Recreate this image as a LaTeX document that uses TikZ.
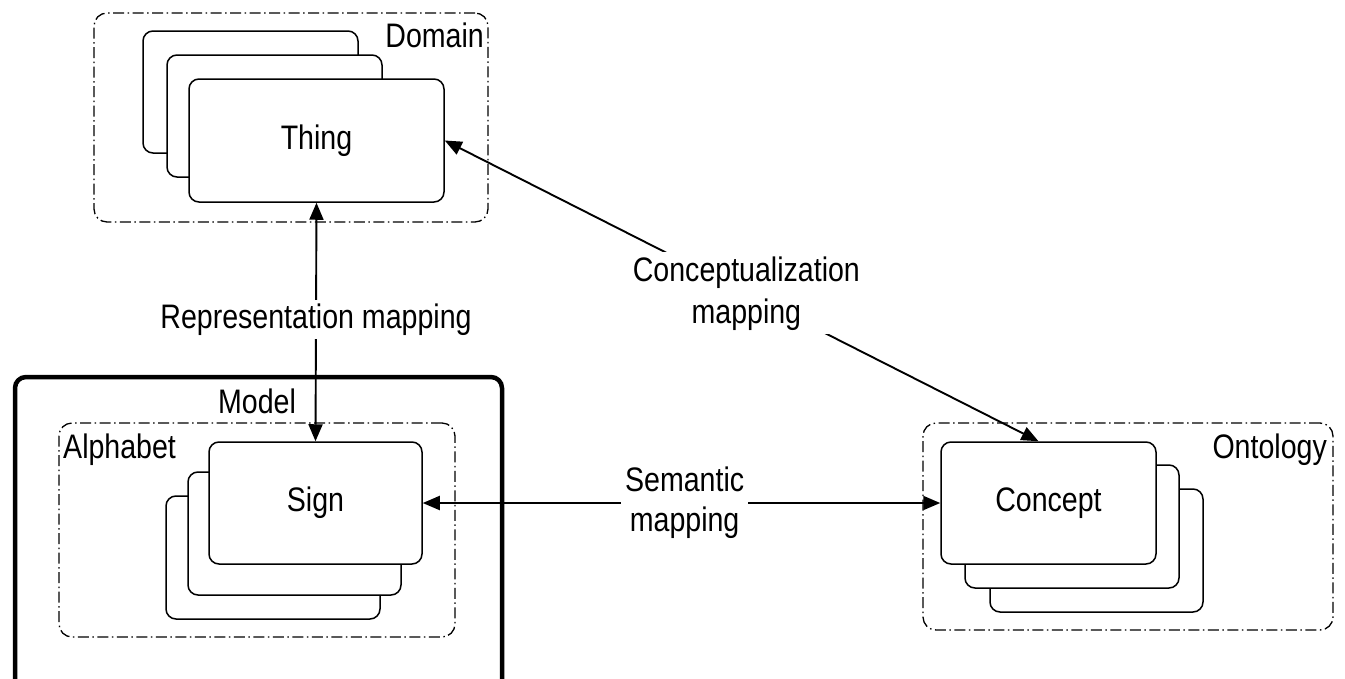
\documentclass[tikz,border=0pt]{standalone}
\usepackage{fontspec}
\setmainfont[FakeStretch=0.84]{Liberation Sans}
\usetikzlibrary{arrows.meta}
\begin{document}
\begin{tikzpicture}[x=1pt,y=-1pt,
  every node/.style={font=\fontsize{34}{42}\selectfont},
  card/.style={draw, fill=white, rounded corners=10pt, line width=1.5pt, inner sep=0pt},
  container/.style={draw, rounded corners=13pt, line width=1.3pt,
     dash pattern=on 11pt off 3.5pt on 1.5pt off 3.5pt, inner sep=0pt},
  modelbox/.style={draw, rounded corners=11pt, line width=4.5pt, inner sep=0pt},
  conn/.style={line width=1.9pt, {Triangle[length=17pt,width=14pt]}-{Triangle[length=17pt,width=14pt]}},
  maplabel/.style={fill=white, inner sep=4pt, align=center},
  boxlabel/.style={inner sep=0pt}
]
\clip (0,0) rectangle (1345,678);
\useasboundingbox (0,0) rectangle (1345,678);
\fill[white] (0,0) rectangle (1345,678);

% containers
\node[container, minimum width=394pt, minimum height=209pt] (domain) at (291,117.5) {};
\node[modelbox, minimum width=487pt, minimum height=323pt] (model) at (258.5,538.5) {};
\node[container, minimum width=396pt, minimum height=214pt] (alphabet) at (257,530) {};
\node[container, minimum width=410pt, minimum height=207pt] (ontology) at (1128,526.5) {};

% container labels
\node[boxlabel, anchor=base east] (domainlbl) at (484,47) {Domain};
\node[boxlabel, anchor=base] (modellbl) at (257,413) {Model};
\node[boxlabel, anchor=base west] (alphabetlbl) at (63,458) {Alphabet};
\node[boxlabel, anchor=base east] (ontologylbl) at (1327,458) {Ontology};

% Thing stack
\node[card, minimum width=215pt, minimum height=122pt] (thing3) at (250.5,92) {};
\node[card, minimum width=215pt, minimum height=122pt] (thing2) at (274.5,116) {};
\node[card, minimum width=255pt, minimum height=123pt] (thing) at (316.5,140.5) {Thing};

% Sign stack
\node[card, minimum width=214pt, minimum height=123pt] (sign3) at (273,557.5) {};
\node[card, minimum width=213pt, minimum height=123pt] (sign2) at (294.5,533.5) {};
\node[card, minimum width=213pt, minimum height=122pt] (sign) at (315.5,503) {Sign};

% Concept stack
\node[card, minimum width=213pt, minimum height=123pt] (concept3) at (1096.5,550.5) {};
\node[card, minimum width=214pt, minimum height=123pt] (concept2) at (1072,526.5) {};
\node[card, minimum width=215pt, minimum height=122pt] (concept) at (1048.5,503) {Concept};

% connectors
\draw[conn] (thing.south) -- node[maplabel, pos=0.49] (replbl) {Representation mapping} (sign.north);
\draw[conn] (thing.east) -- node[maplabel, pos=0.508] (conclbl) {Conceptualization\\mapping} ([xshift=-10pt]concept.north);
\draw[conn] (sign.east) -- node[maplabel, pos=0.506, font=\fontsize{34}{40}\selectfont] (semlbl) {Semantic\\mapping} (concept.west);
\end{tikzpicture}
\end{document}
